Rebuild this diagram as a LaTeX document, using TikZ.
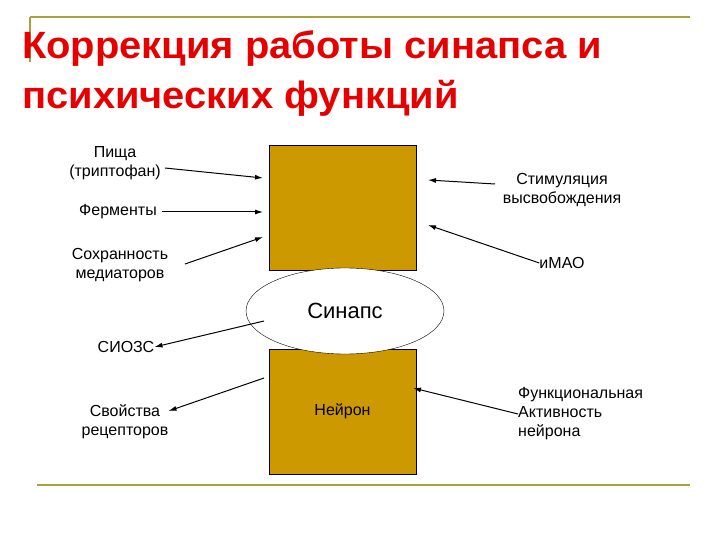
\documentclass[tikz,border=0pt]{standalone}
\usepackage{fontspec}
\setmainfont{Liberation Sans}
\usetikzlibrary{shapes.geometric,arrows.meta}
\begin{document}
\begin{tikzpicture}[x=1pt,y=-1pt,
  lbl/.style={font=\fontsize{16}{19}\selectfont,align=center,inner sep=0pt},
  box/.style={draw=black,fill=boxc,minimum width=147pt,minimum height=125pt,inner sep=0pt},
  arr/.style={-{Latex[length=8pt,width=5pt]},line width=1pt}]
\definecolor{boxc}{RGB}{204,153,0}
\definecolor{olive}{RGB}{170,160,60}
\definecolor{titler}{RGB}{230,0,0}
\useasboundingbox (0,0) rectangle (720,540);
\draw[olive,line width=1.5pt] (30,17) -- (690,17);
\draw[olive,line width=1.5pt] (30,17) -- (30,62);
\draw[olive,line width=1.5pt] (37,485) -- (690,485);
\node[anchor=west,text=titler,font=\bfseries\fontsize{38}{50}\selectfont,align=left,inner sep=0pt,xscale=1.05] (title) at (22,74) {Коррекция работы синапса и\\психических функций};
\node[box] (up) at (342.5,207.5) {};
\node[box] (low) at (342.5,411.5) {\fontsize{16}{19}\selectfont Нейрон};
\node[draw,fill=white,ellipse,minimum width=198pt,minimum height=86pt,inner sep=0pt,font=\fontsize{22}{26}\selectfont] (syn) at (345,311) {Синапс};
\node[lbl] (a1) at (115,163) {Пища\\(триптофан)};
\node[lbl] (a2) at (118,212) {Ферменты};
\node[lbl] (a3) at (120,265) {Сохранность\\медиаторов};
\node[lbl] (b1) at (562,190) {Стимуляция\\высвобождения};
\node[lbl] (b2) at (562,263) {иМАО};
\node[lbl] (c1) at (126,347) {СИОЗС};
\node[lbl] (c2) at (125,422) {Свойства\\рецепторов};
\node[lbl,align=left,anchor=west] (d1) at (518,414) {Функциональная\\Активность\\нейрона};
\coordinate (p1) at (263,178); \coordinate (p2) at (263,212); \coordinate (p3) at (263,237);
\coordinate (q1) at (428,180); \coordinate (q2) at (428,225);
\coordinate (r1) at (264,321); \coordinate (r2) at (264,378); \coordinate (s1) at (413,388);
\draw[arr] (a1.east |- 0,168) ++(4,0) -- (p1);
\draw[arr] (a2.east) ++(5,0) -- (p2);
\draw[arr] (185,264) -- (p3);
\draw[arr] (495,184) -- (q1);
\draw[arr] (b2.west) -- (q2);
\draw[arr] (r1) -- (c1.east);
\draw[arr] (r2) -- (c2.east |- 0,411);
\draw[arr] (d1.west) -- (s1);
\end{tikzpicture}
\end{document}
